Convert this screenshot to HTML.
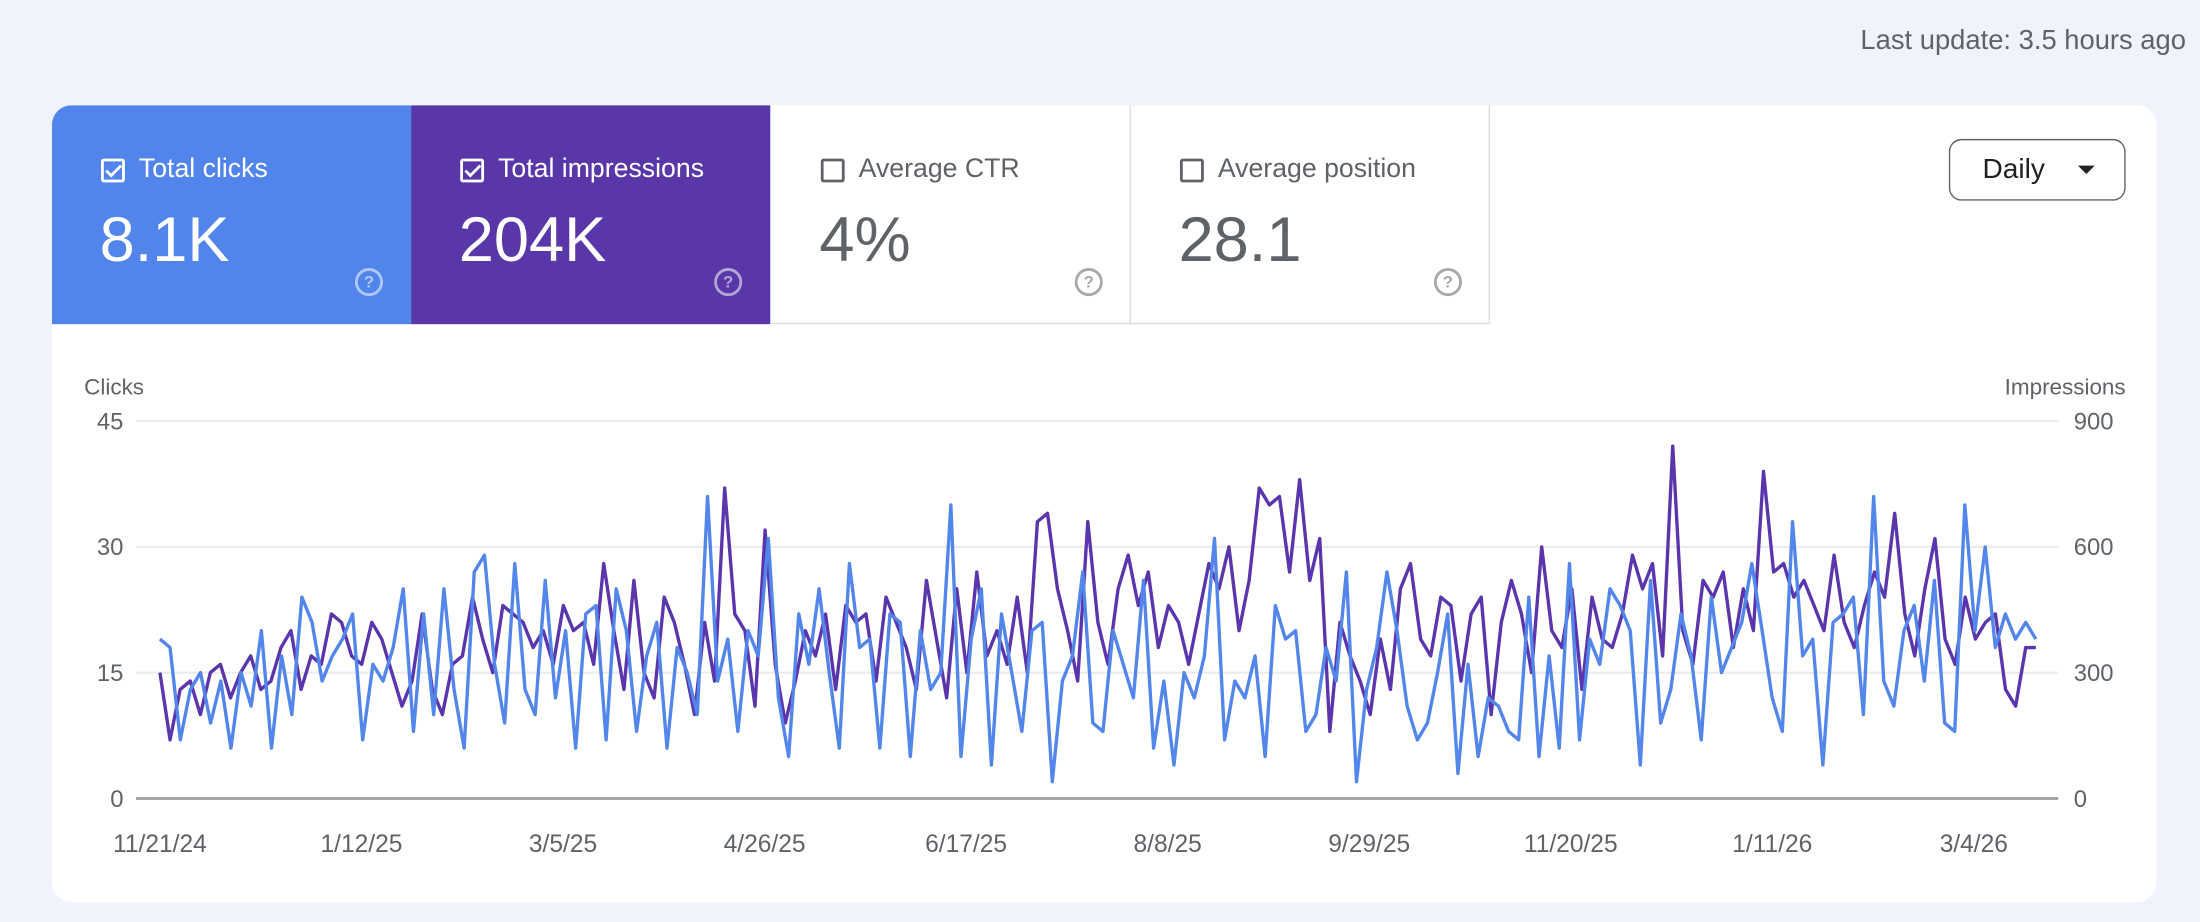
<!DOCTYPE html>
<html><head><meta charset="utf-8">
<style>
html,body{margin:0;padding:0;background:#f0f3fb;}
body{width:2200px;height:922px;overflow:hidden;font-family:"Liberation Sans",Arial,sans-serif;}
#wrap{position:absolute;left:0;top:0;width:1568px;height:657px;transform:scale(1.40306,1.40335);transform-origin:0 0;}
.upd{position:absolute;right:10px;top:18px;font-size:19.5px;color:#5f6368;}
.card{position:absolute;left:37px;top:75px;width:1500px;height:568px;background:#fff;border-radius:14px;overflow:hidden;}
.tile{position:absolute;top:0;width:256px;height:156px;box-sizing:border-box;}
.tile .lab{position:absolute;left:35px;top:35px;font-size:19px;display:flex;align-items:center;gap:10px;}
.cb{width:17px;height:17px;border:2px solid currentColor;border-radius:2px;box-sizing:border-box;position:relative;}
.cb.on::after{content:"";position:absolute;left:4px;top:0px;width:4px;height:9px;border:solid currentColor;border-width:0 2px 2px 0;transform:rotate(45deg);}
.tile .val{position:absolute;left:34px;top:70px;font-size:45px;}
.help{position:absolute;left:216px;top:116px;width:16px;height:16px;border:2px solid currentColor;border-radius:50%;font-size:12px;line-height:16px;text-align:center;opacity:.55;font-weight:bold;}
.daily{position:absolute;left:1352px;top:24px;width:126px;height:44px;border:1.5px solid #5f6368;border-radius:9px;box-sizing:border-box;font-size:20px;color:#202124;}
.daily span{position:absolute;left:23px;top:10px;}
.daily i{position:absolute;left:91px;top:18px;width:0;height:0;border-left:6px solid transparent;border-right:6px solid transparent;border-top:6px solid #202124;}
svg text{font-family:"Liberation Sans",Arial,sans-serif;fill:#5f6368;}
</style></head><body>
<div id="wrap">
<div class="upd">Last update: 3.5 hours ago</div>
<div class="card">
 <div class="tile" style="left:0;background:#5185ec;color:#fff">
  <div class="lab"><div class="cb on"></div><span>Total clicks</span></div>
  <div class="val">8.1K</div><div class="help">?</div></div>
 <div class="tile" style="left:256px;background:#5a37a8;color:#fff">
  <div class="lab"><div class="cb on"></div><span>Total impressions</span></div>
  <div class="val">204K</div><div class="help">?</div></div>
 <div class="tile" style="left:513px;color:#5f6368;border-right:1px solid #dadce0;border-bottom:1px solid #dadce0">
  <div class="lab"><div class="cb"></div><span>Average CTR</span></div>
  <div class="val">4%</div><div class="help">?</div></div>
 <div class="tile" style="left:769px;color:#5f6368;border-right:1px solid #dadce0;border-bottom:1px solid #dadce0">
  <div class="lab"><div class="cb"></div><span>Average position</span></div>
  <div class="val">28.1</div><div class="help">?</div></div>
 <div class="daily"><span>Daily</span><i></i></div>
</div>
<svg id="chart" width="1568" height="657" style="position:absolute;left:0;top:0">
 <text x="60" y="281" font-size="16">Clicks</text>
 <text x="1515" y="281" font-size="16" text-anchor="end">Impressions</text>
 <g id="grid"></g><g id="lines"></g><g id="xt"></g>
</svg>
</div>
<script>
const xLabels=["11/21/24","1/12/25","3/5/25","4/26/25","6/17/25","8/8/25","9/29/25","11/20/25","1/11/26","3/4/26"];
const leftTicks=[0,15,30,45];
const rightTicks=[0,300,600,900];
const totalDays=484;
const clicks=[19,18,7,13,15,9,14,6,15,11,20,6,17,10,24,21,14,17,19,22,7,16,14,18,25,8,22,10,25,13,6,27,29,16,9,28,13,10,26,12,20,6,22,23,7,25,20,8,17,21,6,18,15,10,36,14,19,8,20,17,31,12,5,22,16,25,15,6,28,18,19,6,22,21,5,20,13,15,35,5,19,25,4,22,15,8,20,21,2,14,17,27,9,8,20,16,12,26,6,14,4,15,12,17,31,7,14,12,17,5,23,19,20,8,10,18,14,27,2,13,18,27,20,11,7,9,15,22,3,16,5,12,11,8,7,24,5,17,6,28,7,19,16,25,23,20,4,26,9,13,22,17,7,24,15,18,21,28,20,12,8,33,17,19,4,21,22,24,10,36,14,11,20,23,14,26,9,8,35,20,30,18,22,19,21,19];
const impressions=[15,7,13,14,10,15,16,12,15,17,13,14,18,20,13,17,16,22,21,17,16,21,19,15,11,14,22,13,10,16,17,24,19,15,23,22,21,18,20,16,23,20,21,16,28,20,13,26,15,12,24,21,16,10,21,14,37,22,20,11,32,16,9,14,20,17,22,13,23,21,22,14,24,21,18,13,26,19,12,25,15,27,17,20,16,24,15,33,34,25,20,14,33,21,16,25,29,23,27,18,23,21,16,22,28,25,30,20,26,37,35,36,27,38,26,31,8,21,17,14,10,19,13,25,28,19,17,24,23,14,22,24,10,21,26,22,15,30,20,18,25,13,24,19,18,22,29,25,28,17,42,20,16,26,24,27,18,25,20,39,27,28,24,26,23,20,29,21,18,23,27,24,34,22,17,25,31,19,16,24,19,21,22,13,11,18,18].map(v=>v*20);

const NS="http://www.w3.org/2000/svg";
const X0=114,X1=1451,Y0=569,Y45=300;
function xDay(d){return X0+d*(X1-X0)/totalDays;}
function yL(v){return Y0-v*(Y0-Y45)/45;}
function yR(v){return Y0-v*(Y0-Y45)/900;}
function mk(tag,attrs,parent){const e=document.createElementNS(NS,tag);for(const k in attrs)e.setAttribute(k,attrs[k]);parent.appendChild(e);return e;}
const grid=document.getElementById('grid'),lines=document.getElementById('lines'),xt=document.getElementById('xt');
leftTicks.forEach((t,i)=>{
 const y=yL(t);
 const ln=mk('line',{x1:97,x2:1467,y1:y,y2:y,stroke:t===0?'#9e9e9e':'#ebebeb','stroke-width':t===0?2:1.5},grid);
 
 
 const tl=mk('text',{x:88,y:y+6,'font-size':17,'text-anchor':'end'},grid);tl.textContent=t;
 
 
 const tr=mk('text',{x:1478,y:yR(rightTicks[i])+6,'font-size':17},grid);tr.textContent=rightTicks[i];
 
 
});
xLabels.forEach((l,i)=>{
 const t=mk('text',{x:xDay(i*52),y:607,'font-size':17.5,'text-anchor':'middle'},xt);t.textContent=l;
 
 
});
function path(arr,yf,color,name){
 const n=arr.length;
 const d=arr.map((v,i)=>(i?'L':'M')+xDay(i*totalDays/(n-1)).toFixed(1)+','+yf(v).toFixed(1)).join('');
 const p=mk('path',{d:d,fill:'none',stroke:color,'stroke-width':2.4,'stroke-linejoin':'round'},lines);
 
 
}
path(impressions,yR,'#5a35ab','impressions-line');
path(clicks,yL,'#5286ea','clicks-line');
</script>
</body></html>
